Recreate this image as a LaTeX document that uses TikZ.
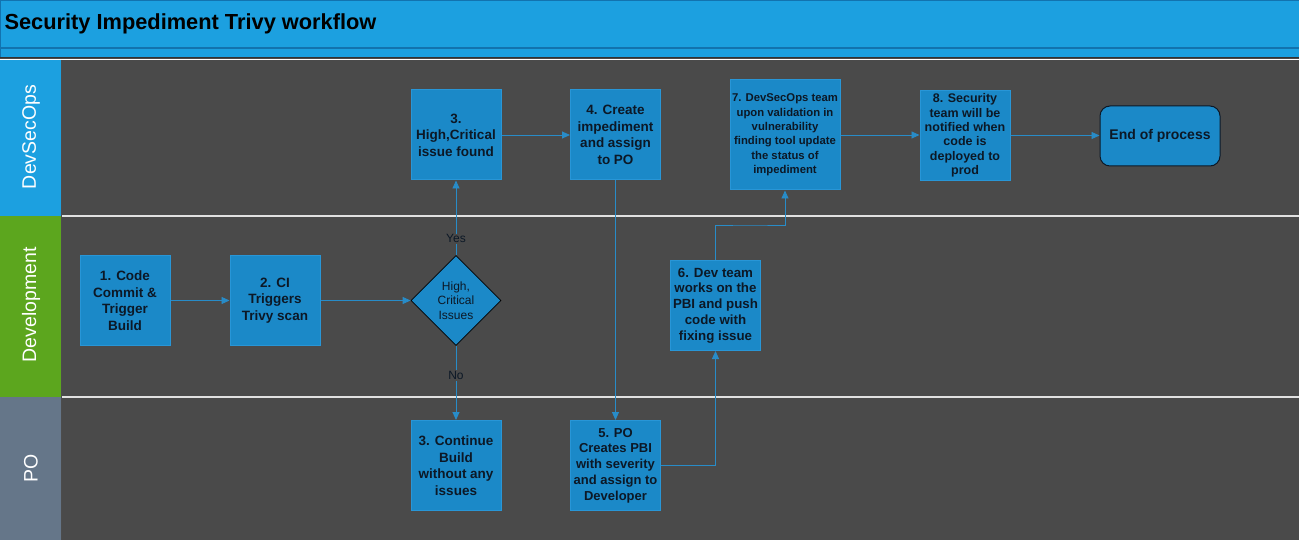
\documentclass[tikz,border=0pt]{standalone}
\usepackage{fontspec}
\setmainfont{Liberation Sans}
\usetikzlibrary{shapes.geometric,arrows.meta}
\definecolor{titleblue}{RGB}{28,160,224}
\definecolor{titleline}{RGB}{18,115,175}
\definecolor{lanegreen}{RGB}{92,166,30}
\definecolor{laneslate}{RGB}{101,118,137}
\definecolor{bgdark}{RGB}{74,74,74}
\definecolor{boxfill}{RGB}{27,137,200}
\definecolor{boxline}{RGB}{40,150,215}
\definecolor{arrowc}{RGB}{40,140,200}
\definecolor{txt}{RGB}{12,24,38}
\definecolor{sepline}{RGB}{225,225,225}
\begin{document}
\begin{tikzpicture}[x=1pt,y=-1pt,
  stepbox/.style={draw=boxline, fill=boxfill, line width=1pt, minimum width=90pt, minimum height=90pt,
    inner sep=0pt, align=center, text=txt, font=\bfseries\fontsize{13.5}{16.5}\selectfont},
  smallbox/.style={stepbox, font=\bfseries\fontsize{11.3}{14.4}\selectfont},
  decision/.style={diamond, aspect=1, draw=black, fill=boxfill, line width=0.8pt, minimum size=90pt,
    inner sep=0pt, align=center, text=txt, font=\fontsize{12}{14.3}\selectfont},
  endbox/.style={draw=txt, fill=boxfill, rounded corners=10pt, line width=1pt, minimum width=120pt,
    minimum height=60pt, inner sep=0pt, text=txt, font=\bfseries\fontsize{14}{16}\selectfont},
  lanelabel/.style={rotate=90, text=white, font=\fontsize{19.5}{22}\selectfont},
  flow/.style={draw=arrowc, line width=0.9pt, -{Triangle[length=8pt,width=7pt]}},
  flowlabel/.style={text=txt, font=\fontsize{12}{14}\selectfont, fill=bgdark, inner sep=1pt}]
\useasboundingbox (0,0) rectangle (1299,540);
% background
\fill[bgdark] (0,0) rectangle (1299,540);
% title band
\fill[titleblue] (0,0) rectangle (1299,58);
\draw[titleline, line width=1pt] (0,0.5) -- (1299,0.5);
\draw[titleline, line width=1.2pt] (0,48) -- (1299,48);
\draw[titleline, line width=1pt] (0.5,0) -- (0.5,58);
\draw[black!80, line width=1pt] (0,58) -- (1299,58);
\draw[white, line width=1pt] (0,59.3) -- (1299,59.3);
\node[anchor=west, text=black, font=\bfseries\fontsize{21.8}{26}\selectfont] (title) at (1,24) {Security Impediment Trivy workflow};
% lane headers
\fill[titleblue] (0,60) rectangle (61,216);
\fill[lanegreen] (0,216) rectangle (61,397);
\fill[laneslate] (0,397) rectangle (61,540);
\draw[black!70, line width=1pt] (61.5,60) -- (61.5,540);
\node[lanelabel] (l1) at (31,137) {DevSecOps};
\node[lanelabel] (l2) at (31,305) {Development};
\node[lanelabel] (l3) at (31,468) {PO};
% lane separators
\draw[sepline, line width=1.3pt] (62,216) -- (1299,216);
\draw[sepline, line width=1.3pt] (62,397) -- (1299,397);
% nodes
\node[stepbox] (n1) at (125,300.5) {1. Code\\Commit \&\\Trigger\\Build};
\node[stepbox] (n2) at (275,300.5) {2. CI\\Triggers\\Trivy scan};
\node[decision] (dia) at (456,300.5) {High,\\Critical\\Issues};
\node[stepbox] (n3) at (456,135) {3.\\High,Critical\\issue found};
\node[stepbox] (n4) at (615.5,135) {4. Create\\impediment\\and assign\\to PO};
\node[stepbox] (n3b) at (456,465.5) {3. Continue\\Build\\without any\\issues};
\node[stepbox, font=\bfseries\fontsize{13}{15.7}\selectfont] (n5) at (615.5,465.5) {5. PO\\Creates PBI\\with severity\\and assign to\\Developer};
\node[stepbox, font=\bfseries\fontsize{13.3}{15.8}\selectfont] (n6) at (715.5,305.5) {6. Dev team\\works on the\\PBI and push\\code with\\fixing issue};
\node[smallbox, minimum width=110pt, minimum height=110pt] (n7) at (785,135) {7. DevSecOps team\\upon validation in\\vulnerability\\finding tool update\\the status of\\impediment};
\node[stepbox, font=\bfseries\fontsize{12.5}{14.4}\selectfont] (n8) at (965,135.5) {8. Security\\team will be\\notified when\\code is\\deployed to\\prod};
\node[endbox] (end) at (1160,136) {End of process};
\coordinate (bend) at (750,225);
% connectors
\draw[flow] (n1) -- (n2);
\draw[flow] (n2) -- (dia);
\draw[flow] (dia.north) -- node[flowlabel, pos=0.22] (yes) {Yes} (n3.south);
\draw[flow] (dia.south) -- node[flowlabel, pos=0.4] (no) {No} (n3b.north);
\draw[flow] (n3) -- (n4);
\draw[flow] (n4) -- (n5);
\draw[flow] (n5.east) -| (n6.south);
\draw[flow] (n6.north) |- (bend) -| (n7.south);
\draw[flow] (n7.east) -- (n8.west |- n7.east);
\draw[flow] (n8.east) -- (end.west |- n8.east);
\end{tikzpicture}
\end{document}
